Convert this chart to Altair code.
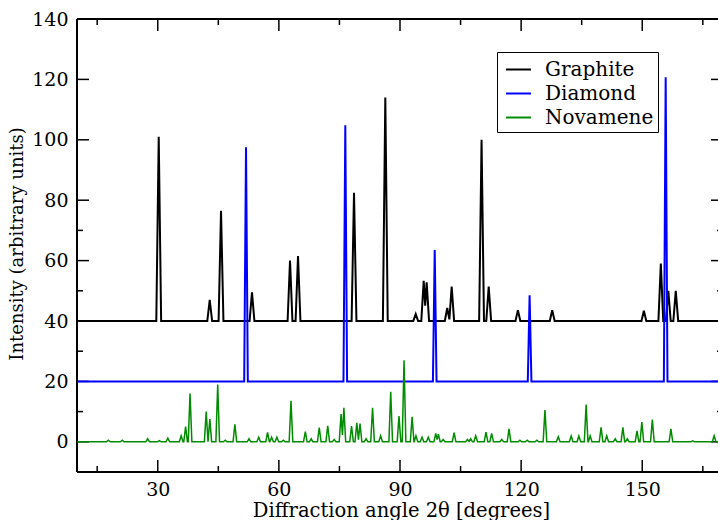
import altair as alt
import pandas as pd

# ---------------- data ----------------
series_names = ["Graphite", "Diamond", "Novamene"]
series_colors = ["#000000", "#0000ff", "#008b00"]
series_base = [40, 20, 0]

graphite_pos = [30.24, 42.87, 45.67, 53.34, 62.76, 64.74, 78.61, 86.36, 93.89, 95.87, 96.6,
                101.7, 102.8, 110.2, 111.97, 119.2, 127.7, 150.4, 154.6, 156.45, 158.3]
graphite_top = [101, 47, 76.5, 49.5, 60, 61.5, 82.5, 114, 42.3, 53.3, 52.8,
                44.3, 51.4, 100, 51.4, 43.6, 43.6, 43.4, 59, 50, 50]

diamond_pos = [51.86, 76.45, 98.6, 122.1, 155.8]
diamond_top = [97.5, 104.8, 63.5, 48.5, 120.7]

novamene_pos = [17.75, 21.2, 27.5, 30.4, 32.5, 35.8, 36.9, 38.0, 42.0, 42.9, 44.85, 46.7,
                49.1, 52.6, 55.0, 57.2, 58.2, 59.5, 61.1, 63.0, 66.55, 68.0, 70.0, 72.1,
                73.7, 75.4, 76.1, 78.0, 79.3, 80.1, 81.6, 83.2, 85.2, 87.7, 89.75, 91.0,
                93.0, 93.95, 95.45, 97.0, 98.85, 99.5, 100.7, 103.4, 106.7, 107.5, 108.75,
                111.3, 112.7, 115.2, 117.0, 119.7, 121.5, 123.9, 125.9, 129.2, 132.4, 134.3,
                136.1, 137.1, 139.8, 141.2, 143.3, 145.2, 146.3, 148.7, 149.9, 152.5, 157.1,
                162.5, 167.8]
novamene_top = [0.5, 0.5, 1.0, 0.4, 1.2, 2.0, 5.0, 16.0, 10.0, 7.5, 19.0, 0.5,
                5.8, 1.0, 1.5, 3.1, 1.5, 1.5, 0.5, 13.6, 3.4, 1.0, 4.7, 5.3,
                0.8, 9.2, 11.3, 5.2, 6.3, 6.0, 1.0, 11.3, 2.0, 16.6, 8.5, 27.0,
                8.3, 2.0, 1.5, 1.5, 2.8, 2.5, 0.8, 3.0, 0.8, 1.0, 2.0,
                3.2, 2.8, 0.8, 4.3, 0.5, 0.5, 0.5, 10.5, 1.7, 1.9, 1.9,
                12.3, 2.0, 4.8, 2.0, 1.0, 4.8, 1.0, 3.6, 6.5, 7.4, 4.3,
                0.3, 2.0]

x_major = [30, 60, 90, 120, 150]
x_minor = [15, 45, 75, 105, 135, 165]
y_major = [0, 20, 40, 60, 80, 100, 120, 140]
y_minor = [10, 30, 50, 70]

# ---------------- layout / style ----------------
X_MIN, X_MAX = 10, 168.76
Y_MIN, Y_MAX = -10, 140
W, H = 641, 453
FONT = "DejaVu Serif"
half_width = {"Graphite": 0.6, "Diamond": 0.45, "Novamene": 0.45}
line_width = {"Graphite": 2.0, "Diamond": 2.0, "Novamene": 1.5}


def peak_polyline(pos, top, base, w):
    """Turn each read peak (position, apex) into a narrow triangular spike."""
    pairs = sorted(zip(pos, top))
    pts = [(X_MIN - 2, base)]
    for i, (c, t) in enumerate(pairs):
        if not (i > 0 and pairs[i - 1][0] + w > c - w):
            pts.append((c - w, base))
        pts.append((c, t))
        if i + 1 < len(pairs) and c + w > pairs[i + 1][0] - w:
            c2, t2 = pairs[i + 1]
            s1 = (t - base) / w
            s2 = (t2 - base) / w
            xv = (t - base + s1 * c + s2 * (c2 - w)) / (s1 + s2)
            yv = t - s1 * (xv - c)
            pts.append((xv, yv))
        else:
            pts.append((c + w, base))
    pts.append((X_MAX + 2, base))
    return pts


rows = []
peaks = {"Graphite": (graphite_pos, graphite_top),
         "Diamond": (diamond_pos, diamond_top),
         "Novamene": (novamene_pos, novamene_top)}
for name, base in zip(series_names, series_base):
    pos, top = peaks[name]
    for k, (xv, yv) in enumerate(peak_polyline(pos, top, base, half_width[name])):
        rows.append({"series": name, "x": xv, "y": yv, "k": k})
df = pd.DataFrame(rows)

xscale = alt.Scale(domain=[X_MIN, X_MAX], nice=False, zero=False)
yscale = alt.Scale(domain=[Y_MIN, Y_MAX], nice=False, zero=False)

x_axis = alt.Axis(values=x_major, ticks=False, tickSize=0, domain=False, grid=False,
                  labelBaseline="alphabetic", labelPadding=23, labelFontSize=19,
                  titleX=324, titleY=44, titleFontSize=19.5,
                  titleBaseline="alphabetic", titleAlign="center")
y_axis = alt.Axis(values=y_major, ticks=False, tickSize=0, domain=False, grid=False,
                  labelPadding=9, labelFontSize=19,
                  titleX=-60, titleY=H / 2 - 2, titleAngle=270, titleFontSize=18,
                  titleBaseline="middle", titleAlign="center")

x_enc = alt.X("x:Q", scale=xscale, title="Diffraction angle 2θ  [degrees]", axis=x_axis)
y_enc = alt.Y("y:Q", scale=yscale, title="Intensity (arbitrary units)", axis=y_axis)
color_enc = alt.Color("series:N",
                      scale=alt.Scale(domain=series_names, range=series_colors),
                      legend=alt.Legend(title=None, orient="none", legendX=420, legendY=33,
                                        direction="vertical", strokeColor="black",
                                        fillColor="white", padding=4, symbolOffset=4,
                                        symbolType="stroke", symbolSize=625,
                                        symbolStrokeWidth=2,
                                        labelOffset=13, rowPadding=-3, labelLimit=300))

base_chart = alt.Chart(df)
line_layers = [
    base_chart.transform_filter(alt.datum.series == n)
    .mark_line(clip=True, strokeWidth=line_width[n])
    .encode(x=x_enc, y=y_enc, color=color_enc, order="k:Q")
    for n in series_names
]

xmaj_df = pd.DataFrame({"x": x_major})
xmin_df = pd.DataFrame({"x": x_minor})
ymaj_df = pd.DataFrame({"y": y_major})
ymin_df = pd.DataFrame({"y": y_minor})

tick_style = dict(color="black", strokeWidth=1.5)
ticks = [
    alt.Chart(xmaj_df).mark_rule(**tick_style).encode(x=x_enc, y=alt.value(H), y2=alt.value(H - 12)),
    alt.Chart(xmaj_df).mark_rule(**tick_style).encode(x=x_enc, y=alt.value(0), y2=alt.value(12)),
    alt.Chart(xmin_df).mark_rule(**tick_style).encode(x=x_enc, y=alt.value(H), y2=alt.value(H - 6)),
    alt.Chart(xmin_df).mark_rule(**tick_style).encode(x=x_enc, y=alt.value(0), y2=alt.value(6)),
    alt.Chart(ymaj_df).mark_rule(**tick_style).encode(y=y_enc, x=alt.value(0), x2=alt.value(12)),
    alt.Chart(ymaj_df).mark_rule(**tick_style).encode(y=y_enc, x=alt.value(W - 7), x2=alt.value(W)),
    alt.Chart(ymin_df).mark_rule(**tick_style).encode(y=y_enc, x=alt.value(0), x2=alt.value(6)),
    alt.Chart(ymin_df).mark_rule(**tick_style).encode(y=y_enc, x=alt.value(W - 1), x2=alt.value(W)),
]

frame_df = pd.DataFrame({"k": [0]})
frame = [
    alt.Chart(frame_df).mark_rule(color="black", strokeWidth=2).encode(
        x=alt.value(0), x2=alt.value(W), y=alt.value(0)),
    alt.Chart(frame_df).mark_rule(color="black", strokeWidth=2).encode(
        x=alt.value(0), x2=alt.value(W), y=alt.value(H)),
    alt.Chart(frame_df).mark_rule(color="black", strokeWidth=2).encode(
        x=alt.value(0), y=alt.value(0), y2=alt.value(H)),
]

chart = (
    alt.layer(*ticks, *frame, *line_layers)
    .properties(
        width=W, height=H, autosize="none",
        padding={"left": 77, "top": 19, "right": 0, "bottom": 48},
        background="white",
    )
    .configure(font=FONT)
    .configure_view(stroke=None)
    .configure_axis(labelFont=FONT, titleFont=FONT,
                    labelColor="black", titleColor="black", titleFontWeight="normal")
    .configure_legend(labelFont=FONT, labelFontSize=20, labelColor="black")
)

chart.save("out.html", embed_options={"renderer": "svg", "actions": False})
